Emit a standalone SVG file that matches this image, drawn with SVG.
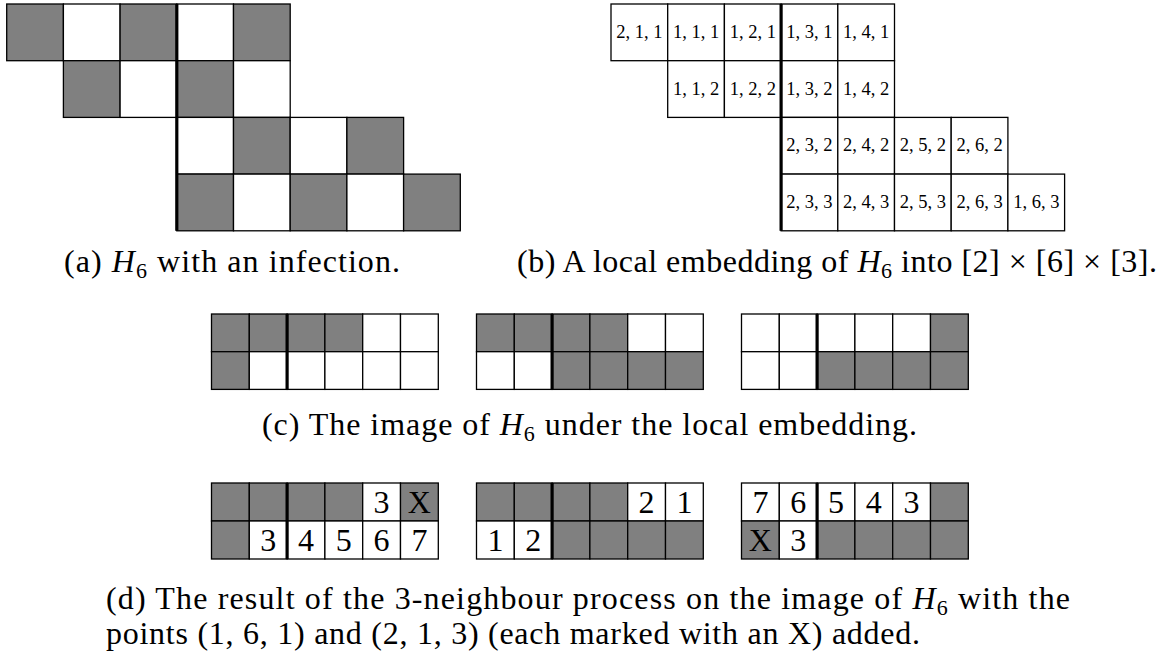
<svg xmlns="http://www.w3.org/2000/svg" width="1167" height="654" viewBox="0 0 1167 654">
<style>
.g{fill:#808080;stroke:#000;stroke-width:1.3}
.w{fill:#fff;stroke:#000;stroke-width:1.3}
.thick{stroke:#000;stroke-width:3.2;fill:none}
.lbl{font-family:"Liberation Serif","Times New Roman",serif;font-size:18.5px;text-anchor:middle;fill:#000}
.num{font-family:"Liberation Serif","Times New Roman",serif;font-size:32px;text-anchor:middle;fill:#000}
.cap{font-family:"Liberation Serif","Times New Roman",serif;font-size:32px;fill:#000}
</style>
<rect width="1167" height="654" fill="#fff"/>

<g id="grid-a">
<rect class="g" x="6.7" y="4" width="56.7" height="56.7"/>
<rect class="w" x="63.4" y="4" width="56.7" height="56.7"/>
<rect class="g" x="120.1" y="4" width="56.7" height="56.7"/>
<rect class="w" x="176.8" y="4" width="56.7" height="56.7"/>
<rect class="g" x="233.5" y="4" width="56.7" height="56.7"/>
<rect class="g" x="63.4" y="60.7" width="56.7" height="56.7"/>
<rect class="w" x="120.1" y="60.7" width="56.7" height="56.7"/>
<rect class="g" x="176.8" y="60.7" width="56.7" height="56.7"/>
<rect class="w" x="233.5" y="60.7" width="56.7" height="56.7"/>
<rect class="w" x="176.8" y="117.4" width="56.7" height="56.7"/>
<rect class="g" x="233.5" y="117.4" width="56.7" height="56.7"/>
<rect class="w" x="290.2" y="117.4" width="56.7" height="56.7"/>
<rect class="g" x="346.9" y="117.4" width="56.7" height="56.7"/>
<rect class="g" x="176.8" y="174.1" width="56.7" height="56.7"/>
<rect class="w" x="233.5" y="174.1" width="56.7" height="56.7"/>
<rect class="g" x="290.2" y="174.1" width="56.7" height="56.7"/>
<rect class="w" x="346.9" y="174.1" width="56.7" height="56.7"/>
<rect class="g" x="403.6" y="174.1" width="56.7" height="56.7"/>
<line class="thick" x1="176.8" y1="4" x2="176.8" y2="230.8"/>
</g>

<g id="grid-b">
<rect class="w" x="611" y="4" width="56.7" height="56.7"/>
<rect class="w" x="667.7" y="4" width="56.7" height="56.7"/>
<rect class="w" x="724.4" y="4" width="56.7" height="56.7"/>
<rect class="w" x="781.1" y="4" width="56.7" height="56.7"/>
<rect class="w" x="837.8" y="4" width="56.7" height="56.7"/>
<rect class="w" x="667.7" y="60.7" width="56.7" height="56.7"/>
<rect class="w" x="724.4" y="60.7" width="56.7" height="56.7"/>
<rect class="w" x="781.1" y="60.7" width="56.7" height="56.7"/>
<rect class="w" x="837.8" y="60.7" width="56.7" height="56.7"/>
<rect class="w" x="781.1" y="117.4" width="56.7" height="56.7"/>
<rect class="w" x="837.8" y="117.4" width="56.7" height="56.7"/>
<rect class="w" x="894.5" y="117.4" width="56.7" height="56.7"/>
<rect class="w" x="951.2" y="117.4" width="56.7" height="56.7"/>
<rect class="w" x="781.1" y="174.1" width="56.7" height="56.7"/>
<rect class="w" x="837.8" y="174.1" width="56.7" height="56.7"/>
<rect class="w" x="894.5" y="174.1" width="56.7" height="56.7"/>
<rect class="w" x="951.2" y="174.1" width="56.7" height="56.7"/>
<rect class="w" x="1007.9" y="174.1" width="56.7" height="56.7"/>
<line class="thick" x1="781.1" y1="4" x2="781.1" y2="230.8"/>
<text class="lbl" x="639.35" y="37.8">2, 1, 1</text>
<text class="lbl" x="696.05" y="37.8">1, 1, 1</text>
<text class="lbl" x="752.75" y="37.8">1, 2, 1</text>
<text class="lbl" x="809.45" y="37.8">1, 3, 1</text>
<text class="lbl" x="866.15" y="37.8">1, 4, 1</text>
<text class="lbl" x="696.05" y="94.5">1, 1, 2</text>
<text class="lbl" x="752.75" y="94.5">1, 2, 2</text>
<text class="lbl" x="809.45" y="94.5">1, 3, 2</text>
<text class="lbl" x="866.15" y="94.5">1, 4, 2</text>
<text class="lbl" x="809.45" y="151.2">2, 3, 2</text>
<text class="lbl" x="866.15" y="151.2">2, 4, 2</text>
<text class="lbl" x="922.85" y="151.2">2, 5, 2</text>
<text class="lbl" x="979.55" y="151.2">2, 6, 2</text>
<text class="lbl" x="809.45" y="207.9">2, 3, 3</text>
<text class="lbl" x="866.15" y="207.9">2, 4, 3</text>
<text class="lbl" x="922.85" y="207.9">2, 5, 3</text>
<text class="lbl" x="979.55" y="207.9">2, 6, 3</text>
<text class="lbl" x="1036.25" y="207.9">1, 6, 3</text>
</g>

<g id="caption-a">
<text class="cap" x="64" y="272" textLength="336" lengthAdjust="spacing">(a) <tspan font-style="italic">H</tspan><tspan font-size="22" dy="6">6</tspan><tspan dy="-6"> with an infection.</tspan></text>
</g>
<g id="caption-b">
<text class="cap" x="517" y="272" textLength="640" lengthAdjust="spacing">(b) A local embedding of <tspan font-style="italic">H</tspan><tspan font-size="22" dy="6">6</tspan><tspan dy="-6"> into [2] × [6] × [3].</tspan></text>
</g>

<g id="grid-c1">
<rect class="g" x="211.5" y="314" width="37.8" height="37.7"/>
<rect class="g" x="249.3" y="314" width="37.8" height="37.7"/>
<rect class="g" x="287.1" y="314" width="37.8" height="37.7"/>
<rect class="g" x="324.9" y="314" width="37.8" height="37.7"/>
<rect class="w" x="362.7" y="314" width="37.8" height="37.7"/>
<rect class="w" x="400.5" y="314" width="37.8" height="37.7"/>
<rect class="g" x="211.5" y="351.7" width="37.8" height="37.7"/>
<rect class="w" x="249.3" y="351.7" width="37.8" height="37.7"/>
<rect class="w" x="287.1" y="351.7" width="37.8" height="37.7"/>
<rect class="w" x="324.9" y="351.7" width="37.8" height="37.7"/>
<rect class="w" x="362.7" y="351.7" width="37.8" height="37.7"/>
<rect class="w" x="400.5" y="351.7" width="37.8" height="37.7"/>
<line class="thick" x1="287.1" y1="314" x2="287.1" y2="389.4"/>
</g>
<g id="grid-c2">
<rect class="g" x="476.5" y="314" width="37.8" height="37.7"/>
<rect class="g" x="514.3" y="314" width="37.8" height="37.7"/>
<rect class="g" x="552.1" y="314" width="37.8" height="37.7"/>
<rect class="g" x="589.9" y="314" width="37.8" height="37.7"/>
<rect class="w" x="627.7" y="314" width="37.8" height="37.7"/>
<rect class="w" x="665.5" y="314" width="37.8" height="37.7"/>
<rect class="w" x="476.5" y="351.7" width="37.8" height="37.7"/>
<rect class="w" x="514.3" y="351.7" width="37.8" height="37.7"/>
<rect class="g" x="552.1" y="351.7" width="37.8" height="37.7"/>
<rect class="g" x="589.9" y="351.7" width="37.8" height="37.7"/>
<rect class="g" x="627.7" y="351.7" width="37.8" height="37.7"/>
<rect class="g" x="665.5" y="351.7" width="37.8" height="37.7"/>
<line class="thick" x1="552.1" y1="314" x2="552.1" y2="389.4"/>
</g>
<g id="grid-c3">
<rect class="w" x="741.5" y="314" width="37.8" height="37.7"/>
<rect class="w" x="779.3" y="314" width="37.8" height="37.7"/>
<rect class="w" x="817.1" y="314" width="37.8" height="37.7"/>
<rect class="w" x="854.9" y="314" width="37.8" height="37.7"/>
<rect class="w" x="892.7" y="314" width="37.8" height="37.7"/>
<rect class="g" x="930.5" y="314" width="37.8" height="37.7"/>
<rect class="w" x="741.5" y="351.7" width="37.8" height="37.7"/>
<rect class="w" x="779.3" y="351.7" width="37.8" height="37.7"/>
<rect class="g" x="817.1" y="351.7" width="37.8" height="37.7"/>
<rect class="g" x="854.9" y="351.7" width="37.8" height="37.7"/>
<rect class="g" x="892.7" y="351.7" width="37.8" height="37.7"/>
<rect class="g" x="930.5" y="351.7" width="37.8" height="37.7"/>
<line class="thick" x1="817.1" y1="314" x2="817.1" y2="389.4"/>
</g>
<g id="caption-c">
<text class="cap" x="262" y="435" textLength="655" lengthAdjust="spacing">(c) The image of <tspan font-style="italic">H</tspan><tspan font-size="22" dy="6">6</tspan><tspan dy="-6"> under the local embedding.</tspan></text>
</g>

<g id="grid-d1">
<rect class="g" x="211.5" y="483" width="37.8" height="38"/>
<rect class="g" x="249.3" y="483" width="37.8" height="38"/>
<rect class="g" x="287.1" y="483" width="37.8" height="38"/>
<rect class="g" x="324.9" y="483" width="37.8" height="38"/>
<rect class="w" x="362.7" y="483" width="37.8" height="38"/>
<rect class="g" x="400.5" y="483" width="37.8" height="38"/>
<rect class="g" x="211.5" y="521" width="37.8" height="38"/>
<rect class="w" x="249.3" y="521" width="37.8" height="38"/>
<rect class="w" x="287.1" y="521" width="37.8" height="38"/>
<rect class="w" x="324.9" y="521" width="37.8" height="38"/>
<rect class="w" x="362.7" y="521" width="37.8" height="38"/>
<rect class="w" x="400.5" y="521" width="37.8" height="38"/>
<line class="thick" x1="287.1" y1="483" x2="287.1" y2="559"/>
<text class="num" x="381.6" y="513">3</text>
<text class="num" x="419.4" y="513">X</text>
<text class="num" x="268.2" y="551">3</text>
<text class="num" x="306" y="551">4</text>
<text class="num" x="343.8" y="551">5</text>
<text class="num" x="381.6" y="551">6</text>
<text class="num" x="419.4" y="551">7</text>
</g>
<g id="grid-d2">
<rect class="g" x="476.5" y="483" width="37.8" height="38"/>
<rect class="g" x="514.3" y="483" width="37.8" height="38"/>
<rect class="g" x="552.1" y="483" width="37.8" height="38"/>
<rect class="g" x="589.9" y="483" width="37.8" height="38"/>
<rect class="w" x="627.7" y="483" width="37.8" height="38"/>
<rect class="w" x="665.5" y="483" width="37.8" height="38"/>
<rect class="w" x="476.5" y="521" width="37.8" height="38"/>
<rect class="w" x="514.3" y="521" width="37.8" height="38"/>
<rect class="g" x="552.1" y="521" width="37.8" height="38"/>
<rect class="g" x="589.9" y="521" width="37.8" height="38"/>
<rect class="g" x="627.7" y="521" width="37.8" height="38"/>
<rect class="g" x="665.5" y="521" width="37.8" height="38"/>
<line class="thick" x1="552.1" y1="483" x2="552.1" y2="559"/>
<text class="num" x="646.6" y="513">2</text>
<text class="num" x="684.4" y="513">1</text>
<text class="num" x="495.4" y="551">1</text>
<text class="num" x="533.2" y="551">2</text>
</g>
<g id="grid-d3">
<rect class="w" x="741.5" y="483" width="37.8" height="38"/>
<rect class="w" x="779.3" y="483" width="37.8" height="38"/>
<rect class="w" x="817.1" y="483" width="37.8" height="38"/>
<rect class="w" x="854.9" y="483" width="37.8" height="38"/>
<rect class="w" x="892.7" y="483" width="37.8" height="38"/>
<rect class="g" x="930.5" y="483" width="37.8" height="38"/>
<rect class="g" x="741.5" y="521" width="37.8" height="38"/>
<rect class="w" x="779.3" y="521" width="37.8" height="38"/>
<rect class="g" x="817.1" y="521" width="37.8" height="38"/>
<rect class="g" x="854.9" y="521" width="37.8" height="38"/>
<rect class="g" x="892.7" y="521" width="37.8" height="38"/>
<rect class="g" x="930.5" y="521" width="37.8" height="38"/>
<line class="thick" x1="817.1" y1="483" x2="817.1" y2="559"/>
<text class="num" x="760.4" y="513">7</text>
<text class="num" x="798.2" y="513">6</text>
<text class="num" x="836" y="513">5</text>
<text class="num" x="873.8" y="513">4</text>
<text class="num" x="911.6" y="513">3</text>
<text class="num" x="760.4" y="551">X</text>
<text class="num" x="798.2" y="551">3</text>
</g>
<g id="caption-d">
<text class="cap" x="106" y="609" textLength="964" lengthAdjust="spacing">(d) The result of the 3-neighbour process on the image of <tspan font-style="italic">H</tspan><tspan font-size="22" dy="6">6</tspan><tspan dy="-6"> with the</tspan></text>
<text class="cap" x="106" y="644" textLength="814" lengthAdjust="spacing">points (1, 6, 1) and (2, 1, 3) (each marked with an X) added.</text>
</g>
</svg>
